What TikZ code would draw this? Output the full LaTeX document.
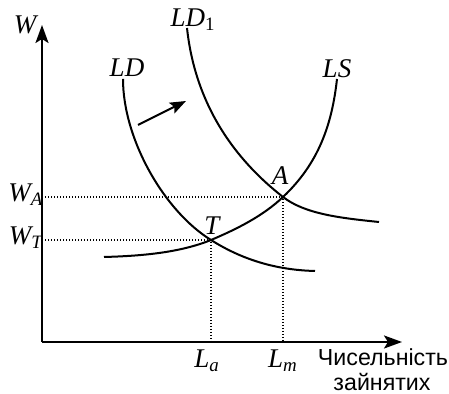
\documentclass[tikz,border=0pt]{standalone}
\usepackage{fontspec}
\setmainfont{Liberation Serif}
\newfontfamily\lmsans{Liberation Sans}
\usetikzlibrary{arrows.meta}
\tikzset{%
  lmaxis/.style={%
    -{Stealth[length=9pt,width=6.5pt,inset=2pt]},
    line width=1.2pt
  },
  lmcurve/.style={line width=1pt},
  lmguide/.style={line width=0.7pt,dash pattern=on 0.6pt off 0.9pt},
  lmshift/.style={-{Stealth[length=8pt,width=6pt,inset=1.5pt]},line width=1pt},
  lmlabel/.style={font=\fontsize{13.5}{15}\selectfont\itshape,inner sep=0pt},
  lmtext/.style={font=\fontsize{11.6}{13}\selectfont\lmsans,inner sep=0pt}
}

\begin{document}
\begin{tikzpicture}[x=0.5pt,y=0.5pt]
    \useasboundingbox (0,0) rectangle (449,394);
    \coordinate (origin) at (42,52);
    \coordinate (wtop) at (42,369);
    \coordinate (lend) at (402,52);
    \coordinate (T) at (211,154);
    \coordinate (A) at (283,197);
    \coordinate (ldstart) at (123,315);
    \coordinate (ldend) at (315,123);
    \coordinate (ldonestart) at (187,366);
    \coordinate (ldoneend) at (379,172);
    \coordinate (lsstart) at (104,137);
    \coordinate (lsend) at (337,315);
    \coordinate (shiftfrom) at (138,269);
    \coordinate (shiftto) at (186,293);

    % axes
    \draw[lmaxis] (origin) -- (wtop);
    \draw[lmaxis] (origin) -- (lend);

    % dotted guides
    \draw[lmguide] (origin |- A) -- (A) -- (origin -| A);
    \draw[lmguide] (origin |- T) -- (T) -- (origin -| T);

    % curves
    \draw[lmcurve] (ldstart) .. controls (123,255) and (164,183) .. (T)
                             .. controls (241,135) and (275,124) .. (ldend);
    \draw[lmcurve] (ldonestart) .. controls (195,291) and (233,236) .. (A)
                                .. controls (305,180) and (340,176) .. (ldoneend);
    \draw[lmcurve] (lsstart) .. controls (140,138) and (179,141) .. (T)
                             .. controls (237,165) and (263,178) .. (A)
                             .. controls (319,231) and (332,270) .. (lsend);
    \draw[lmshift] (shiftfrom) -- (shiftto);

    % labels
    \node[lmlabel] (wlab) at (25,369) {W};
    \node[lmlabel] (ldlab) at (127,326) {LD};
    \node[lmlabel] (ldonelab) at (193,374) {LD\textsubscript{\upshape 1}};
    \node[lmlabel] (lslab) at (337,325) {LS};
    \node[lmlabel] (alab) at (280,218) {A};
    \node[lmlabel] (tlab) at (212,168) {T};
    \node[lmlabel] (walab) at (26,199) {W\textsubscript{A}};
    \node[lmlabel] (wtlab) at (26,156) {W\textsubscript{T}};
    \node[lmlabel] (lalab) at (207,33) {L\textsubscript{a}};
    \node[lmlabel] (lmlab) at (283,33) {L\textsubscript{m}};
    \node[lmtext] (numlab) at (383,37) {Чисельність};
    \node[lmtext] (emplab) at (382,12) {зайнятих};
  \end{tikzpicture}
\end{document}
